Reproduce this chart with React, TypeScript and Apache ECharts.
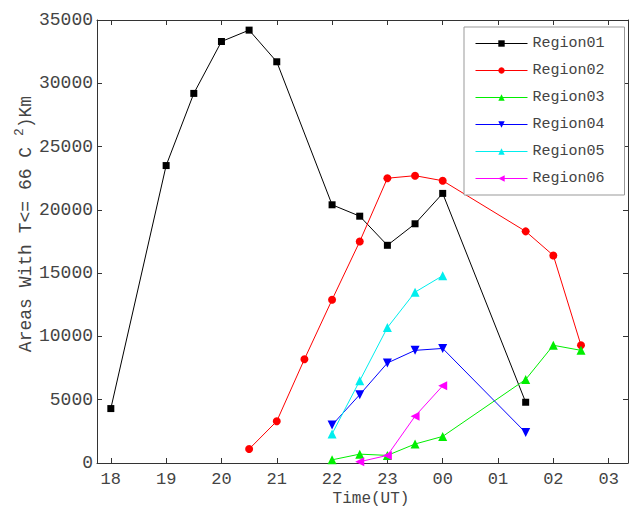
import React, { useEffect, useRef } from "react";
import * as echarts from "echarts";

// hours: 18..23, 24 = 00, 25 = 01, 26 = 02, 27 = 03
const tickHours = [18, 19, 20, 21, 22, 23, 24, 25, 26, 27];

const region01X = [18, 19, 19.5, 20, 20.5, 21, 22, 22.5, 23, 23.5, 24, 25.5];
const region01Y = [4300, 23500, 29200, 33300, 34200, 31700, 20400, 19500, 17200, 18900, 21300, 4800];

const region02X = [20.5, 21, 21.5, 22, 22.5, 23, 23.5, 24, 25.5, 26, 26.5];
const region02Y = [1100, 3300, 8200, 12900, 17500, 22500, 22700, 22300, 18300, 16400, 9300];

const region03X = [22, 22.5, 23, 23.5, 24, 25.5, 26, 26.5];
const region03Y = [250, 700, 600, 1500, 2100, 6600, 9300, 8900];

const region04X = [22, 22.5, 23, 23.5, 24, 25.5];
const region04Y = [3000, 5400, 7900, 8900, 9050, 2400];

const region05X = [22, 22.5, 23, 23.5, 24];
const region05Y = [2300, 6500, 10700, 13500, 14800];

const region06X = [22.5, 23, 23.5, 24];
const region06Y = [100, 600, 3700, 6100];

const FONT = "'Liberation Mono', 'Courier New', monospace";
const TXT = "#444";

function pairs(xs: number[], ys: number[]) {
  return xs.map((x, i) => [x, ys[i]]);
}

export default function App() {
  const ref = useRef<HTMLDivElement>(null);
  useEffect(() => {
    document.body.style.margin = "0";
    const chart = echarts.init(ref.current!, null, { renderer: "svg" });
    const mk = (
      name: string,
      xs: number[],
      ys: number[],
      color: string,
      symbol: string,
      size: number,
      rotate = 0
    ) => ({
      name,
      type: "line",
      data: pairs(xs, ys),
      symbol,
      symbolSize: size,
      symbolRotate: rotate,
      showAllSymbol: true,
      lineStyle: { color, width: 1 },
      itemStyle: { color },
      emphasis: { disabled: true },
      z: 3,
    });
    const hourFmt = (v: number) => String(Math.round(v) % 24).padStart(2, "0");
    chart.setOption({
      animation: false,
      grid: { left: 97, top: 20, right: 1, bottom: 45 },
      xAxis: [
        {
          type: "value",
          min: 17.75,
          max: 27.35,
          position: "bottom",
          axisLine: { show: true, onZero: false, lineStyle: { color: "#333", width: 1 } },
          axisTick: { show: true, inside: true, length: 5, customValues: tickHours, lineStyle: { color: "#333" } },
          axisLabel: {
            customValues: tickHours,
            formatter: hourFmt,
            fontFamily: FONT,
            fontSize: 17,
            color: TXT,
            margin: 8,
          },
          splitLine: { show: false },
        },
        {
          type: "value",
          min: 17.75,
          max: 27.35,
          position: "top",
          axisLine: { show: true, onZero: false, lineStyle: { color: "#333", width: 1 } },
          axisTick: { show: true, inside: true, length: 5, customValues: tickHours, lineStyle: { color: "#333" } },
          axisLabel: { show: false },
          splitLine: { show: false },
        },
      ],
      yAxis: [
        {
          type: "value",
          min: 0,
          max: 35000,
          interval: 5000,
          position: "left",
          axisLine: { show: true, lineStyle: { color: "#333", width: 1 } },
          axisTick: { show: true, inside: true, length: 5, lineStyle: { color: "#333" } },
          axisLabel: {
            formatter: (v: number) => String(v),
            fontFamily: FONT,
            fontSize: 18,
            color: TXT,
            margin: 4,
          },
          splitLine: { show: false },
        },
        {
          type: "value",
          min: 0,
          max: 35000,
          interval: 5000,
          position: "right",
          axisLine: { show: true, lineStyle: { color: "#333", width: 1 } },
          axisTick: { show: true, inside: true, length: 5, lineStyle: { color: "#333" } },
          axisLabel: { show: false },
          splitLine: { show: false },
        },
      ],
      legend: {
        orient: "vertical",
        left: 464,
        top: 27,
        padding: [9, 20, 9, 11],
        itemWidth: 52,
        itemHeight: 8,
        itemGap: 12,
        backgroundColor: "#fff",
        borderColor: "#999",
        borderWidth: 1,
        lineStyle: { width: 1 },
        textStyle: { fontFamily: FONT, fontSize: 15, color: TXT, lineHeight: 14 },
        data: ["Region01", "Region02", "Region03", "Region04", "Region05", "Region06"],
      },
      graphic: [
        {
          type: "text",
          x: 24,
          y: 224,
          rotation: Math.PI / 2,
          style: {
            text: "{a|Areas With T<= 66 C }{s|2}{a|)Km}",
            align: "center",
            verticalAlign: "middle",
            fill: TXT,
            rich: {
              a: { fontFamily: FONT, fontSize: 18, fill: TXT, lineHeight: 22, verticalAlign: "bottom" },
              s: { fontFamily: FONT, fontSize: 13, fill: TXT, lineHeight: 22, verticalAlign: "top" },
            },
          },
        },
        {
          type: "text",
          x: 371,
          y: 499,
          style: {
            text: "Time(UT)",
            align: "center",
            verticalAlign: "middle",
            fontFamily: FONT,
            fontSize: 16,
            lineHeight: 16,
            fill: TXT,
          },
        },
      ],
      series: [
        mk("Region01", region01X, region01Y, "#000000", "rect", 7),
        mk("Region02", region02X, region02Y, "#ff0000", "circle", 8),
        mk("Region03", region03X, region03Y, "#00ee00", "triangle", 9),
        mk("Region04", region04X, region04Y, "#0000ff", "triangle", 9, 180),
        mk("Region05", region05X, region05Y, "#00eeee", "triangle", 9),
        mk("Region06", region06X, region06Y, "#ff00ff", "triangle", 9, 90),
      ],
    });
    return () => chart.dispose();
  }, []);
  return <div ref={ref} style={{ width: 629, height: 508 }} />;
}
